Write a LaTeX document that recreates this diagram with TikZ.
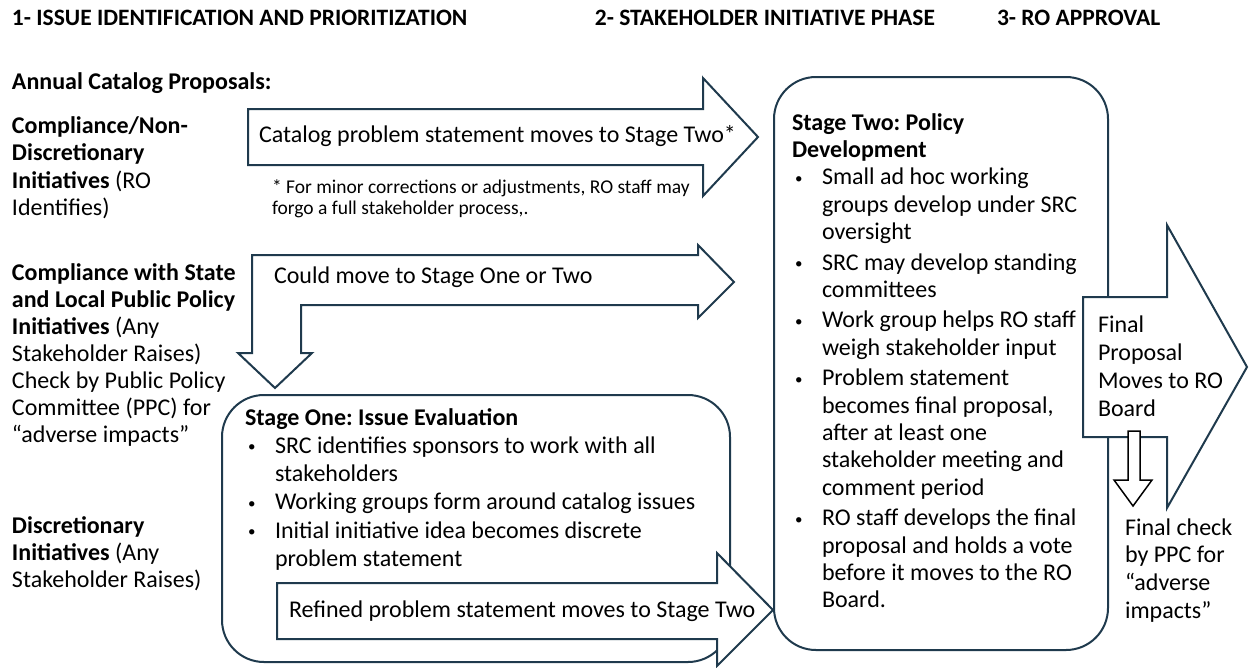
\documentclass[tikz,border=0pt]{standalone}
\usepackage{fontspec}
\setmainfont{Carlito}
\definecolor{edge}{HTML}{1F3A4D}
\tikzset{
  outline/.style={draw=edge, line width=2pt, fill=white, line join=miter},
  smallarrow/.style={draw=black, line width=1.5pt, fill=white, line join=miter},
  txt/.style={anchor=base west, inner sep=0pt, outer sep=0pt, font=\fontsize{24}{27.6}\selectfont},
  head/.style={anchor=base west, inner sep=0pt, outer sep=0pt, font=\fontsize{23.5}{27}\selectfont\bfseries},
  note/.style={anchor=base west, inner sep=0pt, outer sep=0pt, font=\fontsize{19.5}{21.5}\selectfont},
}
\frenchspacing
% bullet and hanging indent for list lines
\newcommand\blt{\makebox[30pt][l]{\hspace{3pt}\raisebox{1.5pt}{\fontsize{15}{15}\selectfont\textbullet}}}
\newcommand\ind{\hspace*{30pt}}
\newcommand\lines[1]{\begin{tabular}[t]{@{}l@{}}#1\end{tabular}}

\begin{document}
\begin{tikzpicture}[x=1pt,y=-1pt]
\useasboundingbox (0,0) rectangle (1249,667);

% stage boxes
\draw[outline, rounded corners=42pt] (774,77) rectangle (1108,650);
\draw[outline, rounded corners=42pt] (222,395) rectangle (730,662);

% block arrows
\draw[outline] (248,109) -- (703,109) -- (703,78) -- (758,137) -- (703,196) -- (703,165) -- (248,165) -- cycle;
\draw[outline] (252,255) -- (698,255) -- (698,245) -- (734,282) -- (698,318) -- (698,305)
  -- (301,305) -- (301,353) -- (312,353) -- (275,388) -- (238,353) -- (252,353) -- cycle;
\draw[outline] (277,583) -- (717,583) -- (717,553) -- (773,610) -- (717,666) -- (717,639) -- (277,639) -- cycle;
\draw[outline] (1083,297) -- (1167,297) -- (1167,225) -- (1247,367) -- (1167,508) -- (1167,437) -- (1083,437) -- cycle;
\draw[smallarrow] (1128,431) -- (1140,431) -- (1140,480) -- (1152,480) -- (1133,506) -- (1114,480) -- (1128,480) -- cycle;

% column headings
\node[head] (h1) at (12,25) {1- ISSUE IDENTIFICATION AND PRIORITIZATION};
\node[head, anchor=base east] (h2) at (935,25) {2- STAKEHOLDER INITIATIVE PHASE};
\node[head] (h3) at (997,25) {3- RO APPROVAL};

% left column
\node[txt] (ann) at (12,89) {\textbf{Annual Catalog Proposals:}};
\node[txt] (c1) at (12,133) {\lines{\textbf{Compliance/Non-}\\ \textbf{Discretionary}\\ \textbf{Initiatives} (RO\\ Identifies)}};
\node[txt, font=\fontsize{24}{27}\selectfont] (c2) at (12,280) {\lines{\textbf{Compliance with State}\\ \textbf{and Local Public Policy}\\ \textbf{Initiatives} (Any\\ Stakeholder Raises)\\ Check by Public Policy\\ Committee (PPC) for\\ “adverse impacts”}};
\node[txt, font=\fontsize{24}{27}\selectfont] (c3) at (12,533) {\lines{\textbf{Discretionary}\\ \textbf{Initiatives} (Any\\ Stakeholder Raises)}};

% arrow labels
\node[txt] (t1) at (259,142) {Catalog problem statement moves to Stage Two*};
\node[note] (fn) at (272,193) {\lines{* For minor corrections or adjustments, RO staff may\\ forgo a full stakeholder process,.}};
\node[txt] (t2) at (274,283) {Could move to Stage One or Two};
\node[txt] (t3) at (289,617) {Refined problem statement moves to Stage Two};
\node[txt, font=\fontsize{24}{28.3}\selectfont] (t4) at (1098,332) {\lines{Final\\ Proposal\\ Moves to RO\\ Board}};
\node[txt, font=\fontsize{24}{27.7}\selectfont] (t5) at (1125,535) {\lines{Final check\\ by PPC for\\ “adverse\\ impacts”}};

% stage one contents
\node[txt, font=\fontsize{24}{28.3}\selectfont] (s1) at (245,425) {\lines{\textbf{Stage One: Issue Evaluation}\\
 \blt SRC identifies sponsors to work with all\\
 \ind stakeholders\\
 \blt Working groups form around catalog issues\\
 \blt Initial initiative idea becomes discrete\\
 \ind problem statement}};

% stage two contents
\node[txt, font=\fontsize{24}{27.4}\selectfont] (s2) at (792,130) {\lines{\textbf{Stage Two: Policy}\\
 \textbf{Development}\\
 \blt Small ad hoc working\\
 \ind groups develop under SRC\\
 \ind oversight\\[3pt]
 \blt SRC may develop standing\\
 \ind committees\\[3pt]
 \blt Work group helps RO staff\\
 \ind weigh stakeholder input\\[3pt]
 \blt Problem statement\\
 \ind becomes final proposal,\\
 \ind after at least one\\
 \ind stakeholder meeting and\\
 \ind comment period\\[3pt]
 \blt RO staff develops the final\\
 \ind proposal and holds a vote\\
 \ind before it moves to the RO\\
 \ind Board.}};
\end{tikzpicture}
\end{document}
